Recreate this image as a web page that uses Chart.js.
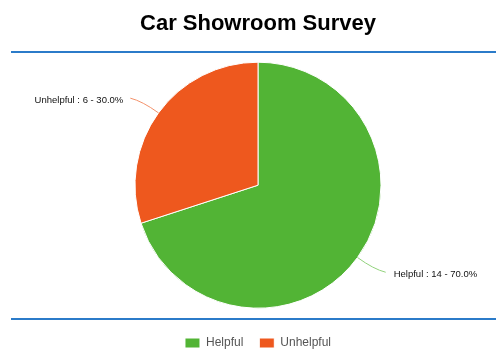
<!DOCTYPE html>
<html>
<head>
<meta charset="utf-8">
<script src="https://cdn.jsdelivr.net/npm/chart.js@4/dist/chart.umd.min.js"></script>
<style>
html,body{margin:0;padding:0;background:#fff;}
#wrap{width:496px;height:363px;}
</style>
</head>
<body>
<div id="wrap"><canvas id="c" width="496" height="363"></canvas></div>
<script>
const titleText = "Car Showroom Survey";
const categories = ["Helpful", "Unhelpful"];
const values = [14, 6];
const colors = ["#52b435", "#ee581e"];
const lineColors = ["#92d27c", "#f3916a"];

const total = values.reduce((a, b) => a + b, 0);

const decorPlugin = {
  id: 'decor',
  afterDraw(chart) {
    const ctx = chart.ctx;
    ctx.save();
    ctx.strokeStyle = '#2b7bc9';
    ctx.lineWidth = 2;
    [52, 319].forEach(y => {
      ctx.beginPath();
      ctx.moveTo(11, y);
      ctx.lineTo(496, y);
      ctx.stroke();
    });
    const meta = chart.getDatasetMeta(0);
    meta.data.forEach((arc, i) => {
      const mid = (arc.startAngle + arc.endAngle) / 2;
      const r = arc.outerRadius;
      const cx = arc.x, cy = arc.y;
      const cos = Math.cos(mid), sin = Math.sin(mid);
      const p0 = {x: cx + r * cos, y: cy + r * sin};
      const p1 = {x: cx + (r + 20) * cos, y: cy + (r + 20) * sin};
      const right = cos >= 0;
      const p2 = {x: p1.x + (right ? 12 : -12), y: p1.y + (right ? 3 : -3)};
      ctx.strokeStyle = lineColors[i];
      ctx.lineWidth = 1;
      ctx.beginPath();
      ctx.moveTo(p0.x, p0.y);
      ctx.quadraticCurveTo(p1.x, p1.y, p2.x, p2.y);
      ctx.stroke();
      const pct = (values[i] / total * 100).toFixed(1);
      const label = categories[i] + " : " + values[i] + " - " + pct + "%";
      ctx.fillStyle = '#111';
      ctx.font = '9.5px "Liberation Sans", Arial, sans-serif';
      ctx.textBaseline = 'middle';
      ctx.textAlign = right ? 'left' : 'right';
      ctx.fillText(label, p2.x + (right ? 8 : -7), p2.y + 2);
    });
    ctx.restore();
  }
};

new Chart(document.getElementById('c'), {
  type: 'pie',
  data: {
    labels: categories,
    datasets: [{
      data: values,
      backgroundColor: colors,
      borderColor: '#ffffff',
      borderWidth: 1
    }]
  },
  options: {
    responsive: false,
    animation: false,
    radius: 123,
    layout: {padding: {left: 20, right: 0, top: 0, bottom: 4}},
    plugins: {
      title: {
        display: true,
        text: titleText,
        color: '#000',
        font: {family: '"Liberation Sans", Arial, sans-serif', size: 22, weight: 'bold', lineHeight: 1.2},
        padding: {top: 11, bottom: 12}
      },
      legend: {
        position: 'bottom',
        labels: {
          boxWidth: 15,
          boxHeight: 10,
          padding: 16,
          color: '#555',
          font: {family: '"Liberation Sans", Arial, sans-serif', size: 12}
        }
      },
      tooltip: {enabled: false}
    }
  },
  plugins: [decorPlugin]
});
</script>
</body>
</html>
